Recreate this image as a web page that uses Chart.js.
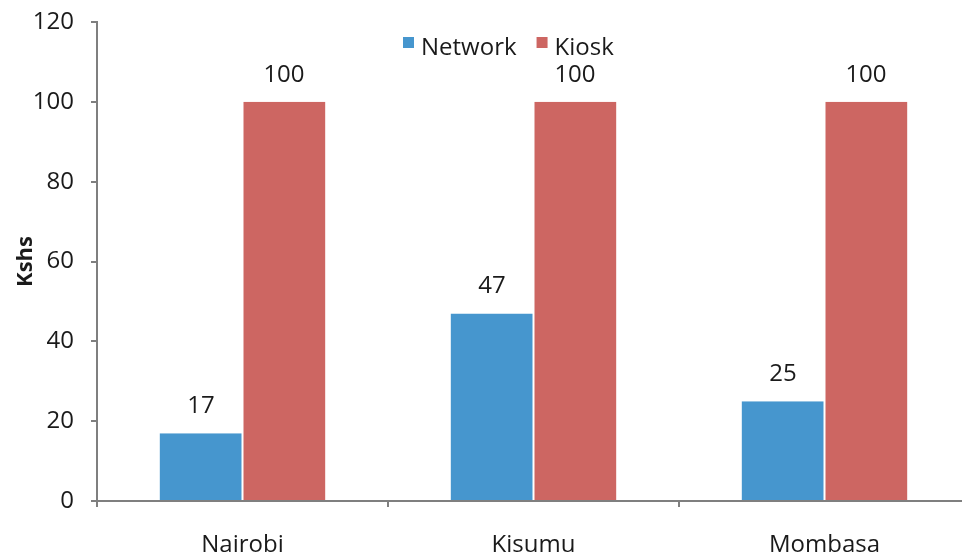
<!DOCTYPE html>
<html>
<head>
<meta charset="utf-8">
<script src="https://cdn.jsdelivr.net/npm/chart.js@4.4.1/dist/chart.umd.min.js"></script>
<style>
  html, body { margin: 0; padding: 0; background: #fff; overflow: hidden; }
  #wrap { width: 970px; height: 554px; }
</style>
</head>
<body>
<div id="wrap"><canvas id="chart" width="970" height="554"></canvas></div>
<script>
  // data
  const cities = ['Nairobi', 'Kisumu', 'Mombasa'];
  const network = [17, 47, 25];
  const kiosk = [100, 100, 100];
  const yTicks = [0, 20, 40, 60, 80, 100, 120];

  const FONT = '"Open Sans", sans-serif';
  const TXT = '#1a1a1a';
  const AXIS = '#7f7f7f';

  // value labels above each bar
  const barLabels = {
    id: 'barLabels',
    afterDatasetsDraw(chart) {
      const ctx = chart.ctx;
      ctx.save();
      ctx.font = '24px ' + FONT;
      ctx.fillStyle = TXT;
      ctx.textAlign = 'center';
      ctx.textBaseline = 'middle';
      chart.data.datasets.forEach((ds, i) => {
        chart.getDatasetMeta(i).data.forEach((bar, j) => {
          ctx.fillText(String(ds.data[j]), bar.x, bar.y - 27);
        });
      });
      ctx.restore();
    }
  };

  // legend drawn inside the plot, near the top
  const topLegend = {
    id: 'topLegend',
    afterDraw(chart) {
      const ctx = chart.ctx;
      ctx.save();
      ctx.font = '24px ' + FONT;
      ctx.textBaseline = 'middle';
      let x = 403;
      const y = 47;
      chart.data.datasets.forEach((ds) => {
        ctx.fillStyle = ds.backgroundColor;
        ctx.fillRect(x, y - 10, 11, 11);
        ctx.fillStyle = TXT;
        ctx.textAlign = 'left';
        ctx.fillText(ds.label, x + 18, y + 1);
        x += 18 + ctx.measureText(ds.label).width + 20;
      });
      ctx.restore();
    }
  };

  new Chart(document.getElementById('chart').getContext('2d'), {
    type: 'bar',
    data: {
      labels: cities,
      datasets: [
        { label: 'Network', data: network, backgroundColor: '#4696ce', borderColor: '#ffffff', borderWidth: { left: 0, right: 1, top: 0, bottom: 0 } },
        { label: 'Kiosk', data: kiosk, backgroundColor: '#cd6662', borderColor: '#ffffff', borderWidth: { left: 1, right: 0, top: 0, bottom: 0 } },
      ],
    },
    options: {
      responsive: false,
      animation: false,
      layout: { padding: { top: 22, right: 0, left: 0, bottom: 0 } },
      datasets: { bar: { categoryPercentage: 0.57, barPercentage: 1 } },
      plugins: { legend: { display: false }, tooltip: { enabled: false } },
      scales: {
        x: {
          grid: { offset: true, drawOnChartArea: false, tickLength: 6, color: AXIS, lineWidth: 2 },
          border: { color: AXIS, width: 2 },
          ticks: { color: TXT, font: { family: FONT, size: 24 }, padding: 24 },
          afterFit: (s) => { s.height = 53; s.paddingLeft = 0; s.paddingRight = 0; },
        },
        y: {
          min: 0,
          max: 120,
          afterBuildTicks: (s) => { s.ticks = yTicks.map((v) => ({ value: v })); },
          grid: { drawOnChartArea: false, tickLength: 6, color: AXIS, lineWidth: 2 },
          border: { color: AXIS, width: 2 },
          ticks: { color: TXT, font: { family: FONT, size: 24 }, padding: 17 },
          title: { display: true, text: 'Kshs', color: TXT, font: { family: FONT, size: 22, weight: 'bold' }, padding: { top: 13, bottom: 0 } },
          afterFit: (s) => { s.width = 97; s.paddingTop = 0; s.paddingBottom = 0; },
        },
      },
    },
    plugins: [barLabels, topLegend],
  });
</script>
</body>
</html>
